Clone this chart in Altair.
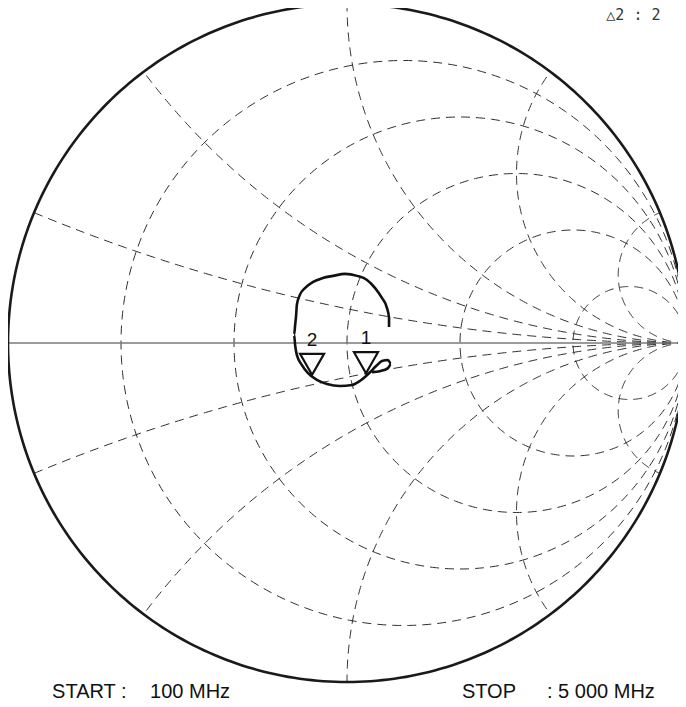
import altair as alt
import numpy as np
import pandas as pd

# ---- Smith chart grid values ----
resistance_circles = [0.2, 0.5, 1.0, 2.0, 5.0]
reactance_arcs = [0.2, 0.5, 1.0, 2.0, 5.0, -0.2, -0.5, -1.0, -2.0, -5.0]

trace_re = [0.074, 0.097, 0.121, 0.130, 0.121, 0.103, 0.086, 0.068, 0.053, 0.038,
            0.015, -0.021, -0.059, -0.089, -0.115, -0.133, -0.148, -0.153, -0.156, -0.153,
            -0.150, -0.148, -0.139, -0.124, -0.100, -0.071, -0.041, -0.006, 0.030, 0.059,
            0.083, 0.103, 0.118, 0.124, 0.124]
trace_im = [-0.086, -0.083, -0.074, -0.062, -0.050, -0.053, -0.068, -0.086, -0.100, -0.112,
            -0.124, -0.127, -0.121, -0.109, -0.089, -0.065, -0.035, -0.006, 0.024, 0.053,
            0.083, 0.112, 0.142, 0.162, 0.180, 0.192, 0.198, 0.204, 0.198, 0.186,
            0.162, 0.133, 0.103, 0.074, 0.047]

# ---- markers ----
marker_ids = ["1", "2"]
marker_re = [0.056, -0.103]
marker_im = [-0.089, -0.094]

# ---- annotation texts ----
text_labels = ["START :", "100 MHz", "STOP", ": 5 000 MHz"]
text_re = [-0.870, -0.581, 0.339, 0.590]
text_im = [-1.046, -1.046, -1.046, -1.046]
delta_label = "\u25b32 : 2"

# ---- layout ----
PX = 339.0          # pixels per unit of reflection coefficient
W, H = 670, 697
umin = -1.0
umax = umin + W / PX
vmax = 1 - 4 / PX
vmin = vmax - H / PX

# grid geometry derived from r / x values
rows = []
t = np.linspace(0, 2 * np.pi, 361)
for r in resistance_circles:
    c = r / (1 + r)
    R = 1 / (1 + r)
    for i, tt in enumerate(t):
        rows.append(dict(u=c + R * np.cos(tt), v=R * np.sin(tt), grp=f"r{r}", ord=i))
for x in reactance_arcs:
    ax = abs(x)
    R = 1 / ax
    pu = (ax * ax - 1) / (ax * ax + 1)
    pv = 2 * ax / (ax * ax + 1)
    end = np.arctan2(pv - R, pu - 1)
    if end > -np.pi / 2:
        end -= 2 * np.pi
    ang = np.linspace(-np.pi / 2, end, 240)
    sgn = 1 if x > 0 else -1
    for i, a in enumerate(ang):
        rows.append(dict(u=1 + R * np.cos(a), v=sgn * (R + R * np.sin(a)), grp=f"x{x}", ord=i))
grid_df = pd.DataFrame(rows)

outer_df = pd.DataFrame({"u": np.cos(t), "v": np.sin(t), "ord": np.arange(len(t))})
axis_df = pd.DataFrame({"u": [-1.0, 1.0], "v": [0.0, 0.0], "ord": [0, 1]})
trace_df = pd.DataFrame({"u": trace_re, "v": trace_im, "ord": np.arange(len(trace_re))})
marker_df = pd.DataFrame({"u": marker_re, "v": marker_im, "id": marker_ids})
text_df = pd.DataFrame({"u": text_re, "v": text_im, "label": text_labels})
delta_df = pd.DataFrame({"u": [0.765], "v": [0.953], "label": [delta_label]})

xs = alt.X("u:Q", scale=alt.Scale(domain=[umin, umax], nice=False, zero=False), axis=None)
ys = alt.Y("v:Q", scale=alt.Scale(domain=[vmin, vmax], nice=False, zero=False), axis=None)

grid = alt.Chart(grid_df).mark_line(
    strokeDash=[9, 6], strokeWidth=1, color="#2e2e2e"
).encode(x=xs, y=ys, detail="grp:N", order="ord:Q")

axis_line = alt.Chart(axis_df).mark_line(strokeWidth=1.4, color="#7a7a7a").encode(
    x=xs, y=ys, order="ord:Q")

outer = alt.Chart(outer_df).mark_line(strokeWidth=2.6, color="#1a1a1a").encode(
    x=xs, y=ys, order="ord:Q")

trace = alt.Chart(trace_df).mark_line(
    strokeWidth=2.6, color="#111111", interpolate="monotone"
).encode(x=xs, y=ys, order="ord:Q")

markers = alt.Chart(marker_df).mark_point(
    shape="M-1,-1.75L1,-1.75L0,0Z", size=576, filled=False,
    stroke="#111111", strokeWidth=2.2, opacity=1
).encode(x=xs, y=ys)

marker_labels = alt.Chart(marker_df).mark_text(
    dy=-29, fontSize=19, font="Liberation Sans", baseline="alphabetic",
    align="center", color="#111111"
).encode(x=xs, y=ys, text="id:N")

texts = alt.Chart(text_df).mark_text(
    fontSize=20, font="Liberation Sans", baseline="alphabetic", align="left",
    color="#111111"
).encode(x=xs, y=ys, text="label:N")

delta = alt.Chart(delta_df).mark_text(
    fontSize=15, font="DejaVu Sans Mono", baseline="alphabetic", align="left",
    color="#333333"
).encode(x=xs, y=ys, text="label:N")

chart = alt.layer(grid, axis_line, outer, trace, markers, marker_labels, texts, delta).properties(
    width=W, height=H,
    autosize=alt.AutoSizeParams(type="none"),
    padding=0,
).configure_view(stroke=None)

chart.save("out.html", embed_options={"renderer": "svg", "actions": False})
